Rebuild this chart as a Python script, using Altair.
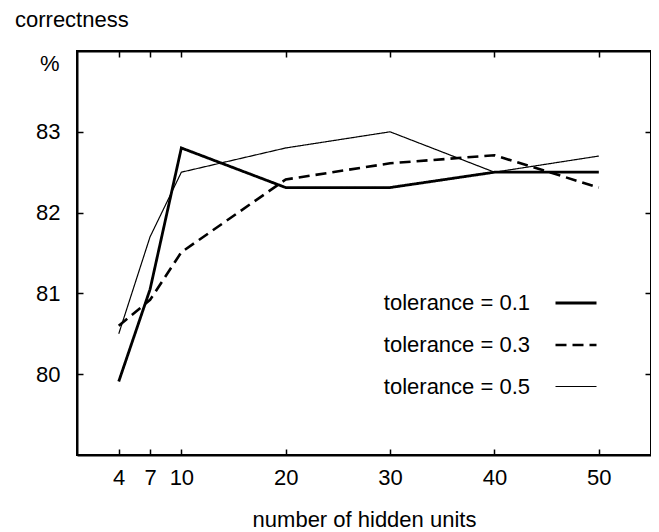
import altair as alt
import pandas as pd

hidden_units = [4, 7, 10, 20, 30, 40, 50]
tol_01 = [79.91, 81.05, 82.8, 82.31, 82.31, 82.5, 82.5]
tol_03 = [80.6, 80.92, 81.51, 82.41, 82.61, 82.71, 82.31]
tol_05 = [80.5, 81.7, 82.5, 82.8, 83.0, 82.5, 82.7]
series_names = ["tolerance = 0.1", "tolerance = 0.3", "tolerance = 0.5"]
x_ticks = [4, 7, 10, 20, 30, 40, 50]
y_ticks = [80, 81, 82, 83]

rows = []
for name, vals in zip(series_names, [tol_01, tol_03, tol_05]):
    for h, v in zip(hidden_units, vals):
        rows.append({"units": h, "correct": v, "series": name})
df = pd.DataFrame(rows)

FONT = "Liberation Sans"
FS = 22

xscale = alt.Scale(domain=[0, 55], nice=False, zero=False)
yscale = alt.Scale(domain=[79, 84], nice=False, zero=False)
inward = alt.ExprRef(expr="-6")


def make_legend():
    return alt.Legend(title=None, orient="none", legendX=477, legendY=230,
                      symbolType="stroke", symbolSize=1681,
                      symbolStrokeColor="black", labelAlign="right",
                      labelOffset=alt.ExprRef(expr="-68"), labelFont=FONT, labelFontSize=FS,
                      labelColor="black", rowPadding=9, padding=0, labelLimit=0)


lines = alt.Chart(df).mark_line(color="black", strokeCap="butt", strokeJoin="miter").encode(
    x=alt.X("units:Q", scale=xscale,
            axis=alt.Axis(orient="bottom", values=x_ticks, title="number of hidden units",
                          grid=False, tickSize=inward, tickWidth=1.5, tickColor="black",
                          domainColor="black", domainWidth=2, labelPadding=18,
                          labelFont=FONT, labelFontSize=FS, labelColor="black",
                          titleFont=FONT, titleFontSize=FS, titleFontWeight="normal",
                          titleColor="black", titlePadding=21, labelFlush=False)),
    y=alt.Y("correct:Q", scale=yscale,
            axis=alt.Axis(orient="left", values=y_ticks, title="%", grid=False,
                          tickSize=inward, tickWidth=1.5, tickColor="black",
                          domainColor="black", domainWidth=2, labelPadding=23,
                          labelFont=FONT, labelFontSize=FS, labelColor="black",
                          titleFont=FONT, titleFontSize=FS, titleFontWeight="normal",
                          titleColor="black", titleAngle=0, titleAlign="right",
                          titleBaseline="middle", titleX=-18, titleY=12)),
    strokeDash=alt.StrokeDash("series:N",
                              scale=alt.Scale(type="ordinal", domain=series_names,
                                              range=[[1, 0], [11, 6], [1, 0]]),
                              legend=make_legend()),
    strokeWidth=alt.StrokeWidth("series:N",
                                scale=alt.Scale(type="ordinal", domain=series_names,
                                                range=[2.8, 2.6, 1.2]),
                                legend=make_legend()),
    detail="series:N",
)

frame = alt.Chart(df).mark_line(opacity=0).encode(
    x=alt.X("units:Q", scale=xscale,
            axis=alt.Axis(orient="top", values=x_ticks, title=None, labels=False, grid=False,
                          tickSize=inward, tickWidth=1.5, tickColor="black",
                          domainColor="black", domainWidth=2)),
    y=alt.Y("correct:Q", scale=yscale,
            axis=alt.Axis(orient="right", values=y_ticks, title=None, labels=False, grid=False,
                          tickSize=inward, tickWidth=1.5, tickColor="black",
                          domainColor="black", domainWidth=2)),
    detail="series:N",
)

chart = alt.layer(lines, frame).resolve_axis(x="independent", y="independent").properties(
    width=574,
    height=404,
    autosize=alt.AutoSizeParams(type="none"),
    padding={"left": 69, "top": 43, "right": 0, "bottom": 75},
    background="white",
    title=alt.TitleParams(text="correctness", anchor="start", frame="group", dx=-62, offset=18,
                          font=FONT, fontSize=FS, fontWeight="normal", color="black"),
).configure_view(stroke="black", strokeWidth=2)

chart.save("out.html", embed_options={"renderer": "svg", "actions": False})
